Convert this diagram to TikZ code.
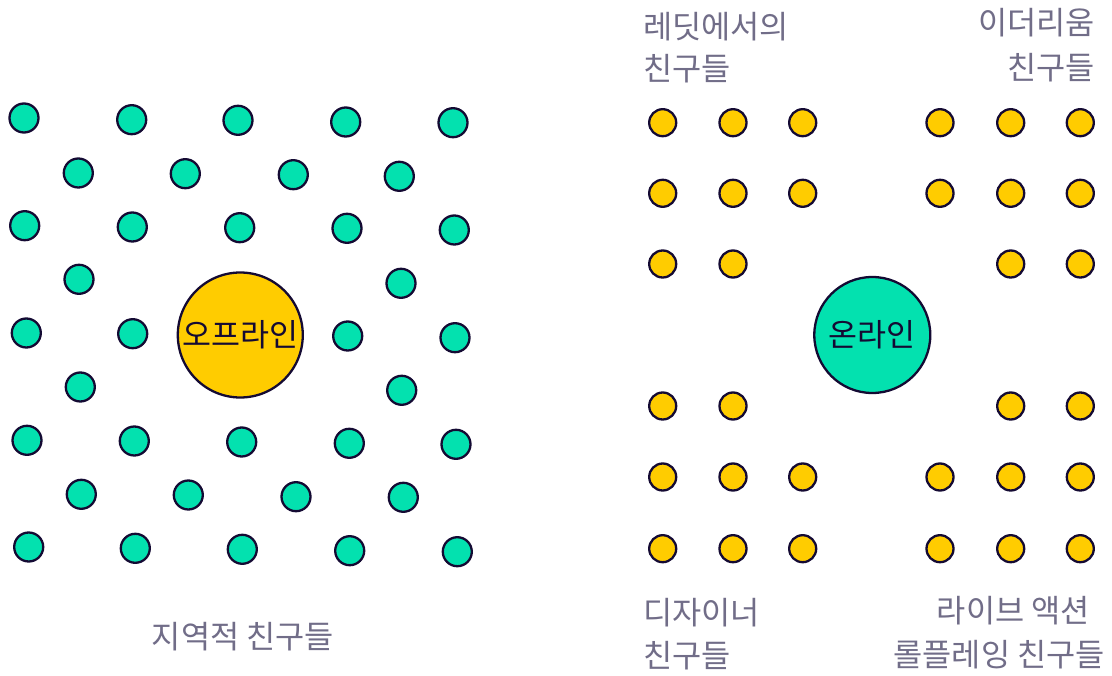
\documentclass[tikz,border=0pt]{standalone}
\usepackage{fontspec}
\newfontfamily\kr{Noto Sans CJK KR}
\definecolor{teal}{HTML}{03E1AF}
\definecolor{gold}{HTML}{FFCC00}
\definecolor{ink}{HTML}{140A33}
\definecolor{label}{HTML}{716D88}
\begin{document}
\begin{tikzpicture}[x=1pt,y=-1pt,
  tdot/.style={circle,draw=ink,line width=2.3pt,fill=teal,minimum size=29pt,inner sep=0pt},
  ydot/.style={circle,draw=ink,line width=2.3pt,fill=gold,minimum size=27pt,inner sep=0pt},
  bigc/.style={circle,draw=ink,line width=2.3pt,inner sep=0pt,text=ink,font=\kr\fontsize{31.5}{36}\selectfont},
  lbl/.style={inner sep=0pt,text=label,font=\kr\fontsize{31.7}{38}\selectfont}]
\useasboundingbox (0,0) rectangle (1112,676);
% left grid
\foreach \x/\y [count=\i] in {
 24/118, 131.7/119.7, 238/120.3, 345.7/122, 453/122.7,
 78.3/173, 185.3/173.7, 293.3/174.7, 399.3/176.3,
 24.7/225.7, 132.3/227, 239.7/227.7, 347/228.3, 454.3/230,
 79/279.3, 401/283.3,
 26.3/333, 132.7/333.7, 347.7/336, 455/337.7,
 80.3/387, 401.7/390.3,
 27/440.3, 134.3/441, 241.7/442, 349.3/443.3, 456/444.3,
 81.3/494.3, 188.3/495, 296/496.7, 403.3/497.3,
 28.7/547, 135.3/548.3, 242.3/549.3, 349.7/550.7, 457.3/551.7}
 \node[tdot] (t\i) at (\x,\y) {};
\node[bigc,fill=gold,minimum size=125pt] (offline) at (240.3,335) {오프라인};
% right grid
\foreach \x/\y [count=\i] in {
 662.7/122.7, 733/122.7, 802.7/122.7, 940/122.7, 1010.7/122.7, 1080.3/122.7,
 662.7/193.3, 733/193.3, 802.7/193.3, 940/193.3, 1010.7/193.3, 1080.3/193.3,
 662.7/264, 733/264, 1010.7/264, 1080.3/264,
 662.7/406, 733/406, 1010.7/406, 1080.3/406,
 662.7/477, 733/477, 802.7/477, 940/477, 1010.7/477, 1080.3/477,
 662.7/548.7, 733/548.7, 802.7/548.7, 940/548.7, 1010.7/548.7, 1080.3/548.7}
 \node[ydot] (y\i) at (\x,\y) {};
\node[bigc,fill=teal,minimum size=116pt] (online) at (872.3,335) {온라인};
% labels
\node[lbl,anchor=west] (reddit1) at (643,27) {레딧에서의};
\node[lbl,anchor=west] (reddit2) at (643,69) {친구들};
\node[lbl,anchor=east] (eth1) at (1095,23) {이더리움};
\node[lbl,anchor=east] (eth2) at (1095,68) {친구들};
\node[lbl,anchor=west] (des1) at (643,613) {디자이너};
\node[lbl,anchor=west] (des2) at (643,656) {친구들};
\node[lbl,anchor=east] (larp1) at (1090,611) {라이브 액션};
\node[lbl,anchor=east] (larp2) at (1105,655) {롤플레잉 친구들};
\node[lbl] (local) at (243,637) {지역적 친구들};
\end{tikzpicture}
\end{document}
